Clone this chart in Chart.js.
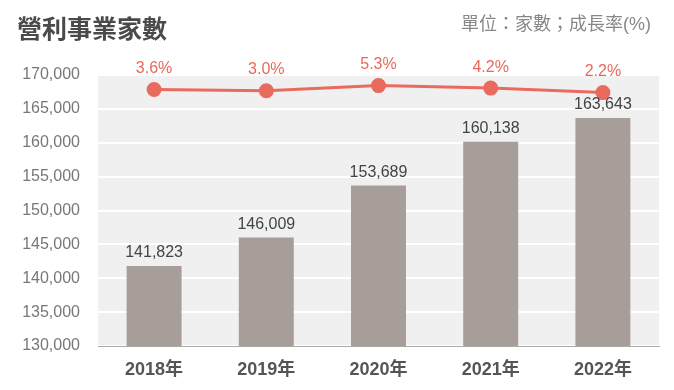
<!DOCTYPE html>
<html>
<head>
<meta charset="utf-8">
<script src="https://cdn.jsdelivr.net/npm/chart.js@4"></script>
<style>
  html, body { margin: 0; padding: 0; background: #fff; }
  #wrap { position: relative; width: 674px; height: 390px; }
  #title {
    position: absolute; left: 17px; top: 17px;
    font: bold 25px/25px "Liberation Sans", "Noto Sans CJK TC", sans-serif;
    color: #4a4a4a;
  }
  #unit {
    position: absolute; right: 23px; top: 15px;
    font: 18px/18px "Liberation Sans", "Noto Sans CJK TC", sans-serif;
    color: #888;
  }
  canvas { position: absolute; left: 0; top: 0; }
</style>
</head>
<body>
<div id="wrap">
  <canvas id="c" width="674" height="390"></canvas>
  <div id="title">營利事業家數</div>
  <div id="unit">單位：家數；成長率(%)</div>
</div>
<script>
const years = ['2018年', '2019年', '2020年', '2021年', '2022年'];
const companies = [141823, 146009, 153689, 160138, 163643];
const growth = [3.6, 3.0, 5.3, 4.2, 2.2];

const FONT = '"Liberation Sans", "Noto Sans CJK TC", sans-serif';

// grey plot background
const plotBg = {
  id: 'plotBg',
  beforeDraw(chart) {
    const { ctx, chartArea: a } = chart;
    ctx.save();
    ctx.fillStyle = '#f0f0f0';
    ctx.fillRect(a.left, a.top, a.right - a.left, a.bottom - a.top);
    ctx.restore();
  }
};

// value labels over bars and points
const valueLabels = {
  id: 'valueLabels',
  afterDatasetsDraw(chart) {
    const ctx = chart.ctx;
    ctx.save();
    ctx.textAlign = 'center';
    ctx.textBaseline = 'middle';
    chart.getDatasetMeta(1).data.forEach((bar, i) => {
      ctx.font = '16px ' + FONT;
      ctx.fillStyle = '#444';
      ctx.fillText(companies[i].toLocaleString('en-US'), bar.x, bar.y - 13);
    });
    chart.getDatasetMeta(0).data.forEach((pt, i) => {
      ctx.font = '16px ' + FONT;
      ctx.fillStyle = '#e8685b';
      ctx.fillText(growth[i].toFixed(1) + '%', pt.x, pt.y - 21);
    });
    ctx.restore();
  }
};

new Chart(document.getElementById('c'), {
  data: {
    labels: years,
    datasets: [
      {
        type: 'line',
        label: '成長率',
        data: growth,
        yAxisID: 'y2',
        borderColor: '#e96b5e',
        backgroundColor: '#e96b5e',
        borderWidth: 3,
        pointRadius: 6,
        pointHoverRadius: 6,
        tension: 0,
        order: 0
      },
      {
        type: 'bar',
        label: '家數',
        data: companies,
        yAxisID: 'y',
        backgroundColor: '#a89e99',
        barPercentage: 0.49,
        categoryPercentage: 1,
        order: 1
      }
    ]
  },
  options: {
    responsive: false,
    animation: false,
    layout: { padding: { top: 75, right: 15, left: 0, bottom: 0 } },
    plugins: {
      legend: { display: false },
      tooltip: { enabled: false }
    },
    scales: {
      x: {
        grid: { display: false, drawTicks: false },
        border: { color: '#aaa', width: 1 },
        afterFit(scale) { scale.height = 44; },
        ticks: {
          color: '#555',
          padding: 13,
          font: { family: FONT, size: 18, weight: 'bold' }
        }
      },
      y: {
        min: 130000,
        max: 170000,
        grid: { color: '#fff', lineWidth: 2, drawTicks: false },
        border: { display: false },
        afterFit(scale) { scale.width = 98; },
        ticks: {
          stepSize: 5000,
          padding: 18,
          color: '#777',
          font: { family: FONT, size: 16 },
          callback: v => v.toLocaleString('en-US')
        }
      },
      y2: {
        display: false,
        min: -110,
        max: 10
      }
    }
  },
  plugins: [plotBg, valueLabels]
});
</script>
</body>
</html>
